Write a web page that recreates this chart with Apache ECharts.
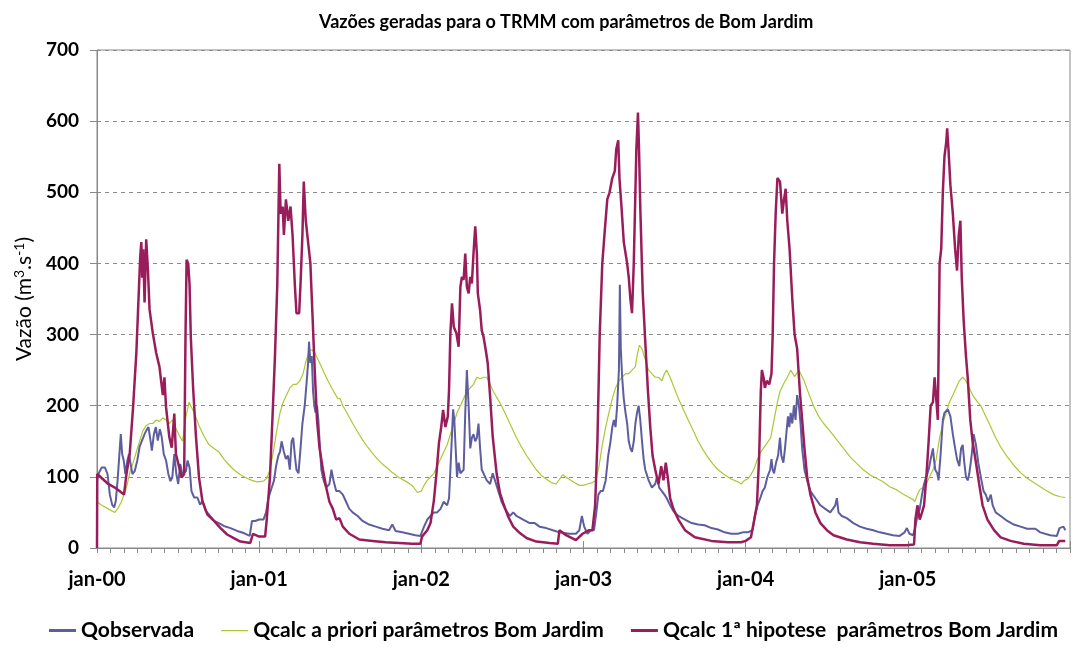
<!DOCTYPE html>
<html>
<head>
<meta charset="utf-8">
<script src="https://cdn.jsdelivr.net/npm/echarts@6/dist/echarts.min.js"></script>
<style>html,body{margin:0;padding:0;background:#fff}#c{width:1073px;height:648px}</style>
</head>
<body>
<div id="c"></div>
<script>
// x values are months since jan-2000
const yearLabels = ['jan-00','jan-01','jan-02','jan-03','jan-04','jan-05'];
const yTicks = [0,100,200,300,400,500,600,700];

const qObservada = [[0,95],[0.1,104],[0.34,113],[0.59,113],[0.78,104],[0.95,75],[1.12,61],[1.27,57],[1.39,66],[1.52,94],[1.64,127],[1.76,160],[1.86,132],[1.98,123],[2.1,104],[2.25,123],[2.37,132],[2.49,118],[2.62,104],[2.79,108],[2.98,123],[3.15,142],[3.33,151],[3.52,160],[3.64,165],[3.81,170],[3.96,151],[4.06,137],[4.21,160],[4.35,170],[4.5,151],[4.65,167],[4.79,156],[4.94,132],[5.11,123],[5.28,104],[5.43,94],[5.57,99],[5.72,132],[5.87,104],[6.01,90],[6.16,118],[6.31,104],[6.45,104],[6.58,108],[6.7,123],[6.85,113],[6.99,80],[7.19,71],[7.43,71],[7.63,61],[7.8,66],[8.04,52],[8.29,47],[8.66,38],[9.02,35],[9.39,31],[9.88,28],[10.37,24],[10.86,21],[11.3,17],[11.47,38],[11.71,38],[12.0,40],[12.32,40],[12.51,50],[12.68,70],[12.93,85],[13.1,95],[13.25,115],[13.42,130],[13.54,135],[13.66,150],[13.83,135],[13.98,125],[14.13,130],[14.27,110],[14.4,150],[14.52,155],[14.64,130],[14.76,110],[14.91,105],[15.06,140],[15.2,175],[15.37,200],[15.5,230],[15.62,260],[15.69,290],[15.79,260],[15.89,270],[15.99,220],[16.08,200],[16.18,190],[16.28,200],[16.38,180],[16.47,150],[16.6,110],[16.77,95],[16.96,85],[17.2,90],[17.35,110],[17.5,95],[17.7,80],[17.94,80],[18.19,75],[18.43,65],[18.67,55],[18.92,50],[19.29,45],[19.65,38],[20.14,33],[20.63,30],[21.12,27],[21.61,25],[21.85,33],[22.1,24],[22.59,22],[23.08,20],[23.56,18],[23.93,17],[24.2,30],[24.44,40],[24.68,45],[24.93,50],[25.17,50],[25.42,55],[25.66,65],[25.91,60],[26.05,70],[26.15,110],[26.27,160],[26.35,195],[26.44,180],[26.54,140],[26.64,100],[26.76,120],[26.89,105],[27.0,105],[27.13,110],[27.25,190],[27.37,250],[27.5,200],[27.62,140],[27.74,155],[27.86,160],[27.99,150],[28.11,155],[28.23,175],[28.35,140],[28.47,110],[28.6,105],[28.84,95],[29.09,90],[29.28,105],[29.45,95],[29.7,80],[29.94,65],[30.19,55],[30.55,45],[30.8,50],[31.04,45],[31.53,40],[32.02,35],[32.39,35],[32.75,30],[33.24,28],[33.73,25],[34.22,22],[34.95,20],[35.44,20],[35.69,25],[35.88,45],[36.05,30],[36.29,20],[36.54,25],[36.78,25],[36.95,50],[37.1,75],[37.27,80],[37.44,80],[37.64,95],[37.83,130],[38.0,150],[38.13,170],[38.25,180],[38.37,170],[38.49,200],[38.62,250],[38.69,370],[38.76,280],[38.86,240],[38.98,210],[39.11,190],[39.23,175],[39.35,150],[39.47,140],[39.59,135],[39.72,150],[39.84,175],[39.96,190],[40.08,200],[40.2,180],[40.33,150],[40.45,125],[40.57,110],[40.82,95],[41.06,85],[41.31,90],[41.43,100],[41.6,85],[41.8,80],[41.99,75],[42.16,70],[42.41,60],[42.65,52],[43.02,45],[43.51,40],[44.0,35],[44.48,33],[44.97,32],[45.46,28],[45.95,26],[46.44,22],[46.93,20],[47.42,20],[47.78,22],[48.15,22],[48.51,25],[48.68,45],[48.88,60],[49.08,70],[49.25,80],[49.42,85],[49.61,100],[49.81,110],[49.91,125],[50.0,110],[50.1,105],[50.25,120],[50.4,130],[50.54,155],[50.64,130],[50.79,120],[50.91,140],[51.03,165],[51.13,185],[51.23,170],[51.33,190],[51.45,175],[51.57,200],[51.69,180],[51.81,215],[51.94,200],[52.06,175],[52.18,140],[52.35,110],[52.55,95],[52.79,80],[53.16,70],[53.53,60],[53.89,55],[54.26,50],[54.63,60],[54.75,70],[54.87,50],[55.11,45],[55.48,42],[55.97,35],[56.46,30],[56.95,27],[57.44,25],[57.93,22],[58.42,20],[58.9,18],[59.39,17],[59.76,22],[59.93,28],[60.12,20],[60.39,18],[60.56,30],[60.71,45],[60.88,55],[61.05,75],[61.2,90],[61.37,100],[61.54,110],[61.69,125],[61.86,140],[61.93,125],[62.03,110],[62.18,105],[62.27,95],[62.42,130],[62.59,180],[62.71,190],[62.96,195],[63.15,185],[63.33,160],[63.5,140],[63.64,125],[63.81,115],[63.94,140],[64.06,145],[64.18,120],[64.3,100],[64.43,95],[64.55,105],[64.72,130],[64.87,160],[65.04,145],[65.21,120],[65.4,100],[65.6,80],[65.77,75],[65.94,65],[66.14,75],[66.28,60],[66.5,50],[66.87,45],[67.36,38],[67.85,33],[68.34,30],[68.83,27],[69.44,27],[69.8,22],[70.54,18],[71.03,17],[71.22,28],[71.52,30],[71.65,25]];

const qAPriori = [[0,65],[0.34,60],[0.83,55],[1.32,50],[1.52,55],[1.81,65],[2.18,85],[2.42,105],[2.67,120],[2.91,135],[3.15,150],[3.4,165],[3.64,172],[3.89,175],[4.13,175],[4.38,180],[4.62,178],[4.87,183],[5.11,180],[5.35,175],[5.6,180],[5.84,168],[6.09,158],[6.33,150],[6.58,185],[6.82,205],[6.94,200],[7.19,190],[7.55,172],[7.92,157],[8.29,145],[8.66,140],[9.02,135],[9.39,125],[9.76,117],[10.12,110],[10.61,103],[11.1,98],[11.47,95],[11.83,93],[12.32,94],[12.56,98],[12.8,110],[13.05,135],[13.3,165],[13.54,190],[13.78,205],[14.03,215],[14.27,225],[14.52,230],[14.76,230],[15.01,235],[15.25,245],[15.5,265],[15.74,278],[15.94,278],[16.11,275],[16.35,265],[16.6,255],[16.84,245],[17.09,235],[17.45,222],[17.82,210],[17.99,210],[18.19,200],[18.55,188],[18.92,175],[19.29,163],[19.65,152],[20.02,142],[20.39,133],[20.75,125],[21.12,118],[21.49,112],[21.85,106],[22.34,99],[22.83,94],[23.32,88],[23.71,78],[24.0,80],[24.2,88],[24.44,95],[24.68,100],[24.93,105],[25.17,115],[25.42,125],[25.66,135],[25.91,145],[26.15,160],[26.4,175],[26.64,190],[26.89,200],[27.13,210],[27.37,220],[27.62,225],[27.86,230],[28.11,240],[28.35,238],[28.6,240],[28.84,240],[29.09,230],[29.33,220],[29.57,212],[29.94,200],[30.31,185],[30.67,170],[31.04,155],[31.41,142],[31.78,130],[32.14,120],[32.51,110],[32.88,102],[33.24,97],[33.61,92],[33.98,90],[34.46,103],[34.83,98],[35.32,92],[35.69,88],[36.0,88],[36.29,90],[36.66,92],[36.9,95],[37.15,115],[37.39,145],[37.64,170],[37.88,190],[38.13,210],[38.37,225],[38.62,235],[38.86,240],[39.11,245],[39.35,245],[39.59,250],[39.84,255],[39.96,270],[40.13,285],[40.33,280],[40.57,265],[40.82,250],[41.06,245],[41.31,240],[41.55,240],[41.8,235],[41.99,245],[42.16,250],[42.41,240],[42.65,228],[43.02,210],[43.38,195],[43.75,180],[44.12,165],[44.48,150],[44.85,138],[45.22,127],[45.58,118],[45.95,110],[46.44,103],[46.93,97],[47.42,93],[47.66,90],[47.91,95],[48.15,97],[48.39,103],[48.64,112],[48.88,125],[49.12,135],[49.49,145],[49.85,155],[50.1,180],[50.35,205],[50.54,220],[50.84,232],[51.08,240],[51.33,250],[51.62,241],[51.94,250],[52.3,236],[52.67,217],[53.04,199],[53.4,185],[53.77,175],[54.26,164],[54.75,152],[55.24,140],[55.73,128],[56.21,119],[56.7,110],[57.19,103],[57.68,98],[58.17,93],[58.66,86],[59.15,82],[59.64,76],[60.0,72],[60.39,68],[60.51,65],[60.71,75],[60.88,82],[61.12,85],[61.37,90],[61.61,100],[61.86,110],[62.1,125],[62.35,155],[62.59,175],[62.84,190],[63.08,205],[63.33,215],[63.57,225],[63.81,235],[64.06,240],[64.3,235],[64.55,225],[64.79,215],[65.16,205],[65.4,200],[65.77,185],[66.14,170],[66.5,155],[66.87,142],[67.36,128],[67.85,116],[68.34,106],[68.83,98],[69.32,92],[69.8,86],[70.29,80],[70.78,75],[71.27,72],[71.65,71]];

const qHipotese = [[0,0],[0.02,104],[0.83,90],[1.32,85],[1.81,78],[2.0,75],[2.18,104],[2.42,132],[2.67,198],[2.91,274],[3.08,354],[3.2,410],[3.28,430],[3.35,380],[3.42,420],[3.52,345],[3.64,434],[3.77,390],[3.89,335],[4.13,302],[4.38,274],[4.62,255],[4.87,215],[4.99,240],[5.11,198],[5.35,156],[5.53,141],[5.72,189],[5.84,132],[6.09,113],[6.26,99],[6.45,104],[6.55,300],[6.63,405],[6.75,400],[6.85,370],[6.94,297],[7.11,226],[7.31,160],[7.55,99],[7.8,66],[8.17,47],[8.66,38],[9.14,28],[9.63,19],[10.12,14],[10.61,9],[11.34,7],[11.54,20],[12.0,16],[12.44,16],[12.56,40],[12.8,100],[13.0,190],[13.17,270],[13.34,370],[13.49,540],[13.59,470],[13.74,480],[13.83,440],[13.98,490],[14.15,460],[14.32,480],[14.47,440],[14.64,370],[14.76,330],[14.96,330],[15.08,380],[15.2,440],[15.3,515],[15.45,460],[15.62,430],[15.79,400],[15.94,330],[16.11,250],[16.28,180],[16.47,140],[16.72,110],[16.96,85],[17.2,65],[17.45,55],[17.7,40],[17.94,42],[18.19,30],[18.67,20],[19.41,12],[20.39,10],[21.36,8],[22.34,7],[23.32,6],[23.93,6],[24.05,16],[24.44,25],[24.68,35],[24.93,67],[25.12,105],[25.3,147],[25.47,170],[25.61,194],[25.78,170],[25.96,185],[26.05,222],[26.15,302],[26.27,344],[26.4,311],[26.59,302],[26.76,283],[26.89,367],[27.0,381],[27.13,377],[27.25,414],[27.37,367],[27.5,358],[27.62,381],[27.74,372],[27.86,414],[27.99,452],[28.11,414],[28.18,358],[28.35,334],[28.47,306],[28.6,297],[28.77,278],[28.91,260],[29.09,213],[29.28,157],[29.57,105],[29.82,77],[30.06,63],[30.43,44],[30.8,30],[31.29,21],[31.78,14],[32.51,9],[33.49,7],[34.1,6],[34.22,25],[34.71,18],[35.44,11],[35.93,20],[36.0,18],[36.42,25],[36.66,25],[36.86,60],[37.03,150],[37.2,300],[37.39,400],[37.59,450],[37.76,490],[37.93,500],[38.13,520],[38.32,530],[38.42,560],[38.57,573],[38.66,520],[38.81,480],[38.98,430],[39.23,400],[39.35,380],[39.47,350],[39.59,330],[39.72,400],[39.84,500],[39.91,560],[40.03,612],[40.11,560],[40.2,480],[40.38,360],[40.57,290],[40.77,220],[40.94,170],[41.11,130],[41.31,110],[41.55,90],[41.75,115],[41.92,95],[42.09,120],[42.23,100],[42.41,70],[42.65,55],[43.02,40],[43.51,25],[44.24,15],[45.46,10],[46.68,8],[47.66,8],[48.0,10],[48.39,15],[48.64,40],[48.83,60],[49.0,130],[49.12,220],[49.2,250],[49.32,240],[49.42,225],[49.56,235],[49.74,230],[49.91,245],[50.0,300],[50.1,400],[50.22,470],[50.35,520],[50.54,515],[50.71,470],[50.84,490],[50.96,505],[51.08,460],[51.25,420],[51.45,350],[51.62,300],[51.81,280],[52.01,220],[52.18,180],[52.35,140],[52.55,100],[52.79,75],[53.16,50],[53.53,35],[54.01,25],[54.5,18],[55.48,12],[56.46,8],[57.44,6],[58.66,4],[59.88,4],[60.46,5],[60.56,40],[60.71,60],[60.88,40],[61.05,50],[61.2,60],[61.37,100],[61.54,150],[61.69,200],[61.86,205],[61.98,240],[62.1,240],[62.22,180],[62.35,400],[62.47,420],[62.59,500],[62.71,550],[62.84,570],[62.91,590],[63.01,560],[63.15,510],[63.33,470],[63.5,420],[63.64,390],[63.77,440],[63.89,460],[63.99,380],[64.13,320],[64.3,270],[64.43,240],[64.62,180],[64.79,150],[65.04,120],[65.28,90],[65.53,60],[65.89,40],[66.38,25],[66.87,15],[67.6,10],[68.58,6],[69.8,4],[71.03,4],[71.2,10],[71.65,10]];

const seriesNames = ['Qobservada', 'Qcalc a priori parâmetros Bom Jardim', 'Qcalc 1ª hipotese  parâmetros Bom Jardim'];
const COLORS = ['#5E5E9E', '#A9C933', '#9A1D5B'];

const FONT = 'Lato, "Open Sans", sans-serif';
const thickIcon = 'path://M0,0L0.01,0L0,0.01Z M0,4.5h27v3h-27z M0,11.99L0.01,12L0,12Z';
const thinIcon = 'path://M0,0L0.01,0L0,0.01Z M0,5.4h27v1.4h-27z M0,11.99L0.01,12L0,12Z';
const chart = echarts.init(document.getElementById('c'), null, {renderer:'canvas'});
const xMax = 72;
chart.setOption({
  animation: false,
  backgroundColor: '#fff',
  title: {
    text: 'Vazões geradas para o TRMM com parâmetros de Bom Jardim',
    left: 314, top: 8,
    textStyle: {fontFamily: FONT, fontWeight: 'bold', fontSize: 18, color: '#000'}
  },
  legend: {
    bottom: 2, left: 44, itemGap: 27, itemWidth: 27, itemHeight: 12,
    textStyle: {fontFamily: FONT, fontWeight: 'bold', fontSize: 21, color: '#000'},
    data: [
      {name: seriesNames[0], icon: thickIcon},
      {name: seriesNames[1], icon: thinIcon},
      {name: seriesNames[2], icon: thickIcon}
    ]
  },
  grid: {left: 97, top: 50, width: 980, height: 498, show: true, borderColor: '#888', borderWidth: 1, containLabel: false},
  xAxis: [{
    type: 'value', min: 0, max: xMax, interval: 1,
    axisLine: {show: true, lineStyle: {color: '#888'}},
    axisTick: {show: true, length: 5, lineStyle: {color: '#888'}},
    splitLine: {show: false},
    axisLabel: {
      margin: 22, fontFamily: FONT, fontWeight: 'bold', fontSize: 20, color: '#000',
      formatter: function (v) { return (v % 12 === 0 && v / 12 < yearLabels.length) ? yearLabels[v / 12] : ''; }
    }
  }, {
    type: 'value', min: 0, max: xMax, interval: 12, position: 'bottom',
    axisLine: {show: false},
    axisTick: {show: true, inside: true, length: 7, lineStyle: {color: '#888'}},
    axisLabel: {show: false}, splitLine: {show: false}
  }],
  yAxis: {
    type: 'value', min: yTicks[0], max: yTicks[yTicks.length - 1], interval: 100,
    name: 'Vazão (m{sup|3}.s{sup|-1})', nameLocation: 'middle', nameGap: 58,
    nameTextStyle: {
      fontFamily: FONT, fontSize: 21, color: '#000',
      rich: {sup: {fontFamily: FONT, fontSize: 14, color: '#000', verticalAlign: 'top', lineHeight: 25}}
    },
    axisLine: {show: true, lineStyle: {color: '#888'}},
    axisTick: {show: true, length: 7, lineStyle: {color: '#888'}},
    axisLabel: {margin: 18, fontFamily: FONT, fontWeight: 'bold', fontSize: 19, color: '#000'},
    splitLine: {show: true, lineStyle: {color: '#8c8c8c', type: [4, 4], width: 1}}
  },
  series: [
    {name: seriesNames[0], type: 'line', data: qObservada, symbol: 'none', showSymbol: false,
     lineStyle: {color: COLORS[0], width: 2}, itemStyle: {color: COLORS[0]}, z: 3},
    {name: seriesNames[1], type: 'line', data: qAPriori, symbol: 'none', showSymbol: false,
     lineStyle: {color: COLORS[1], width: 1.2}, itemStyle: {color: COLORS[1]}, z: 2},
    {name: seriesNames[2], type: 'line', data: qHipotese, symbol: 'none', showSymbol: false,
     lineStyle: {color: COLORS[2], width: 2.5}, itemStyle: {color: COLORS[2]}, z: 4}
  ]
});
</script>
</body>
</html>
